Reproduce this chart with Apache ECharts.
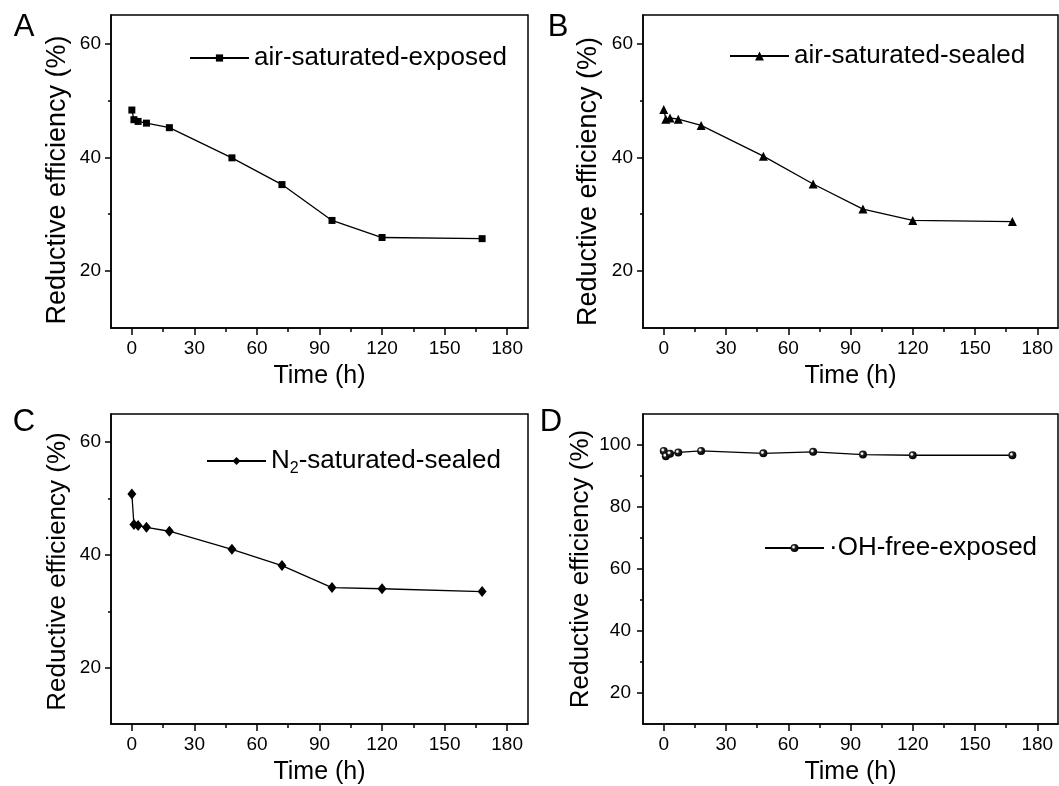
<!DOCTYPE html>
<html>
<head>
<meta charset="utf-8">
<script src="https://cdn.jsdelivr.net/npm/echarts@6/dist/echarts.min.js"></script>
<style>
html, body { margin: 0; padding: 0; background: #fff; }
#main { width: 1059px; height: 786px; }
</style>
</head>
<body>
<div id="main"></div>
<script>
// sampling times (h)
var hours = [0, 1, 3, 7, 18, 48, 72, 96, 120, 168];
// reductive efficiency (%) for each panel
var airExposed = [48.3, 46.6, 46.3, 46.0, 45.2, 39.9, 35.2, 28.9, 25.9, 25.7];
var airSealed = [48.4, 46.7, 46.9, 46.7, 45.6, 40.2, 35.3, 30.9, 28.9, 28.7];
var n2Sealed = [50.8, 45.4, 45.2, 44.9, 44.2, 41.0, 38.1, 34.2, 34.0, 33.5];
var ohFree = [98.1, 96.4, 97.2, 97.6, 98.1, 97.3, 97.8, 96.9, 96.7, 96.7];

var xTicks = [0, 30, 60, 90, 120, 150, 180];
var yTicks = [20, 40, 60];
var yTicksD = [20, 40, 60, 80, 100];

var FONT = '"Liberation Sans", Arial, sans-serif';
var chart = echarts.init(document.getElementById('main'), null, { renderer: 'canvas' });

function pairs(vals) {
  return hours.map(function (h, i) {
    return [h, vals[i]];
  });
}

var black = { color: '#000', width: 1.5 };

function xAxis(i) {
  return {
    gridIndex: i,
    type: 'value',
    min: -10,
    max: 190,
    minInterval: 30,
    maxInterval: 30,
    name: 'Time (h)',
    nameLocation: 'middle',
    nameGap: 36,
    nameTextStyle: { fontSize: 25, fontFamily: FONT, color: '#000' },
    axisLine: { show: true, onZero: false, lineStyle: black },
    axisTick: { show: true, inside: false, length: 7, customValues: xTicks, lineStyle: black },
    minorTick: { show: true, splitNumber: 2, length: 4, lineStyle: black },
    axisLabel: { customValues: xTicks, margin: 11, fontSize: 19, fontFamily: FONT, color: '#000' },
    splitLine: { show: false }
  };
}

function yAxis(i, max, ticks, gap, fontSize, shift, labelMargin) {
  return {
    gridIndex: i,
    type: 'value',
    min: 10,
    max: max,
    minInterval: 20,
    maxInterval: 20,
    name: 'Reductive efficiency (%)',
    nameLocation: 'middle',
    nameGap: gap,
    nameTextStyle: { fontSize: fontSize, fontFamily: FONT, color: '#000', padding: [0, shift, 0, 0] },
    axisLine: { show: true, onZero: false, lineStyle: black },
    axisTick: { show: true, inside: false, length: 6, customValues: ticks, lineStyle: black },
    minorTick: { show: true, splitNumber: 2, length: 3, lineStyle: black },
    axisLabel: { customValues: ticks, margin: labelMargin, fontSize: 19, fontFamily: FONT, color: '#000' },
    splitLine: { show: false }
  };
}

function legend(name, left, top, h) {
  return {
    data: [name],
    left: left,
    top: top,
    padding: 0,
    itemWidth: 59,
    itemHeight: h || 9,
    selectedMode: false,
    textStyle: { fontSize: 26, fontFamily: FONT, color: '#000' }
  };
}

function line(name, i, vals, symbol, size, color) {
  return {
    name: name,
    type: 'line',
    xAxisIndex: i,
    yAxisIndex: i,
    data: pairs(vals),
    symbol: symbol,
    symbolSize: size,
    showAllSymbol: true,
    lineStyle: { color: '#000', width: 1.3 },
    itemStyle: { color: color || '#000' },
    emphasis: { disabled: true }
  };
}

// 小球的高光
var ball = {
  type: 'radial', x: 0.38, y: 0.38, r: 0.62,
  colorStops: [
    { offset: 0, color: '#fff' },
    { offset: 0.15, color: '#f4f4f4' },
    { offset: 0.4, color: '#222' },
    { offset: 1, color: '#000' }
  ]
};

var legC = legend('N2-saturated-sealed', 206, 448, 10);
legC.formatter = function () {
  return 'N{sub|2}-saturated-sealed';
};
legC.textStyle.rich = {
  sub: { fontSize: 16, fontFamily: FONT, color: '#000', padding: [16, 0, 0, 0] }
};

var option = {
  backgroundColor: '#fff',
  animation: false,
  grid: [
    { left: 111, top: 15, width: 417, height: 313, show: true, borderColor: '#000', borderWidth: 1.5 },
    { left: 643, top: 15, width: 415, height: 313, show: true, borderColor: '#000', borderWidth: 1.5 },
    { left: 111, top: 414, width: 417, height: 314, show: true, borderColor: '#000', borderWidth: 1.5 },
    { left: 643, top: 414, width: 415, height: 315, show: true, borderColor: '#000', borderWidth: 1.5 }
  ],
  xAxis: [xAxis(0), xAxis(1), xAxis(2), xAxis(3)],
  yAxis: [
    yAxis(0, 65, yTicks, 40, 27, 17, 10),
    yAxis(1, 65, yTicks, 41, 27, 20, 10),
    yAxis(2, 65, yTicks, 40, 26, 5, 10),
    yAxis(3, 110, yTicksD, 49, 26, 0, 12)
  ],
  legend: [
    legend('air-saturated-exposed', 189, 45, 9),
    legend('air-saturated-sealed', 729, 43, 11),
    legC,
    legend('·OH-free-exposed', 764, 535, 10)
  ],
  graphic: [
    { type: 'text', x: 24, y: 27, style: { text: 'A', fontSize: 31, fontFamily: FONT, fill: '#000', align: 'center', verticalAlign: 'middle' } },
    { type: 'text', x: 558, y: 27, style: { text: 'B', fontSize: 31, fontFamily: FONT, fill: '#000', align: 'center', verticalAlign: 'middle' } },
    { type: 'text', x: 24, y: 422, style: { text: 'C', fontSize: 31, fontFamily: FONT, fill: '#000', align: 'center', verticalAlign: 'middle' } },
    { type: 'text', x: 551, y: 422, style: { text: 'D', fontSize: 31, fontFamily: FONT, fill: '#000', align: 'center', verticalAlign: 'middle' } }
  ],
  series: [
    line('air-saturated-exposed', 0, airExposed, 'rect', 7),
    line('air-saturated-sealed', 1, airSealed, 'triangle', 9),
    line('N2-saturated-sealed', 2, n2Sealed, 'diamond', [9, 11]),
    line('·OH-free-exposed', 3, ohFree, 'circle', 8, ball)
  ]
};

chart.setOption(option);
</script>
</body>
</html>
